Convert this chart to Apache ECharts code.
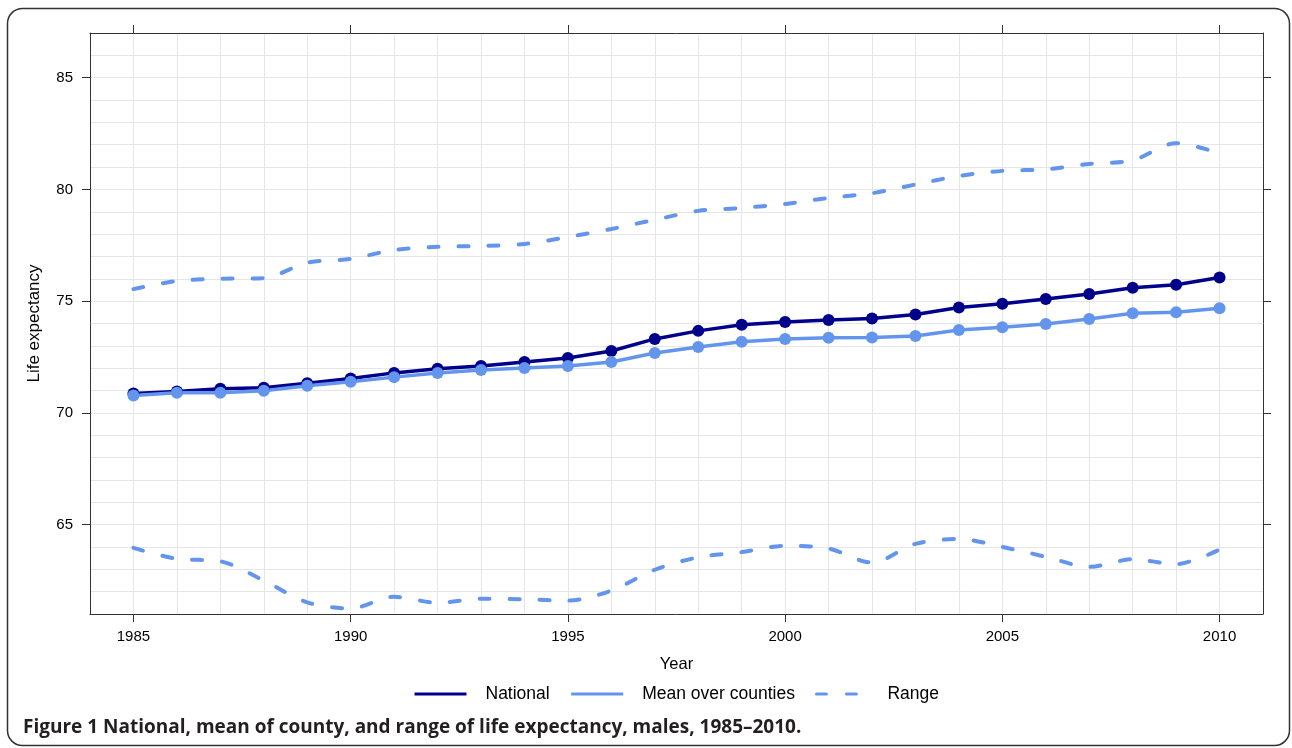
<!DOCTYPE html>
<html>
<head>
<meta charset="utf-8">
<script src="https://cdn.jsdelivr.net/npm/echarts@6/dist/echarts.min.js"></script>
<style>
  html, body { margin: 0; padding: 0; background: #fff; }
  #chart { width: 1292px; height: 748px; }
</style>
</head>
<body>
<div id="chart"></div>
<script>
const years = [1985,1986,1987,1988,1989,1990,1991,1992,1993,1994,1995,1996,1997,1998,1999,2000,2001,2002,2003,2004,2005,2006,2007,2008,2009,2010];
const national = [70.87,70.96,71.08,71.12,71.33,71.54,71.79,71.97,72.10,72.28,72.46,72.77,73.31,73.67,73.94,74.07,74.16,74.22,74.40,74.72,74.88,75.10,75.32,75.60,75.73,76.06];
const meanCounties = [70.78,70.90,70.90,70.99,71.21,71.39,71.60,71.78,71.92,72.01,72.10,72.28,72.68,72.95,73.18,73.31,73.36,73.37,73.44,73.71,73.83,73.98,74.20,74.46,74.50,74.68];
const rangeHigh = [75.54,75.90,76.00,76.03,76.72,76.89,77.29,77.43,77.47,77.56,77.87,78.23,78.64,79.04,79.17,79.35,79.62,79.83,80.22,80.60,80.83,80.90,81.14,81.30,82.07,81.62];
const rangeLow = [63.96,63.47,63.36,62.50,61.52,61.25,61.77,61.50,61.68,61.66,61.60,62.05,62.98,63.54,63.77,64.05,63.93,63.30,64.14,64.36,64.00,63.56,63.11,63.45,63.23,63.88];
const xTicks = [1985,1990,1995,2000,2005,2010];
const yTicks = [65,70,75,80,85];
const legendNames = ['National','Mean over counties','Range'];
const captionText = 'Figure 1 National, mean of county, and range of life expectancy, males, 1985\u20132010.';

const NAVY = '#00008B';
const CORN = '#6495ED';
const FONT = "'Liberation Sans', Arial, Helvetica, sans-serif";

const pairs = arr => years.map((y, i) => [y, arr[i]]);

const chart = echarts.init(document.getElementById('chart'), null, { renderer: 'canvas' });

const axisLineStyle = { color: '#333', width: 1 };
const gridLineStyle = { color: '#e6e6e6', width: 1 };
const plain = v => String(v);

chart.setOption({
  animation: false,
  backgroundColor: '#fff',
  title: {
    text: captionText,
    left: 23,
    top: 718,
    padding: 0,
    textStyle: { fontFamily: "'Open Sans', sans-serif", fontWeight: 'bold', fontSize: 19, color: '#231f20' }
  },
  graphic: [{
    type: 'rect',
    silent: true,
    z: 100,
    shape: { x: 7.5, y: 8.5, width: 1282, height: 737, r: 15 },
    style: { fill: 'none', stroke: '#333', lineWidth: 1.5 }
  }],
  legend: {
    data: legendNames,
    left: 413,
    top: 685,
    itemWidth: 52,
    itemHeight: 3,
    itemGap: 20,
    padding: 0,
    itemStyle: { opacity: 0 },
    lineStyle: { width: 3 },
    textStyle: { fontFamily: FONT, fontSize: 17.5, color: '#000', padding: [0, 0, 0, 14] }
  },
  grid: { left: 90, right: 29, top: 33, bottom: 134, containLabel: false },
  xAxis: [{
    type: 'value', position: 'bottom', min: 1984, max: 2011, interval: 1,
    name: 'Year', nameLocation: 'middle', nameGap: 42,
    nameTextStyle: { fontFamily: FONT, fontSize: 16.5, color: '#000' },
    axisLine: { show: true, lineStyle: axisLineStyle },
    axisTick: { show: true, length: 8, customValues: xTicks, lineStyle: axisLineStyle },
    axisLabel: { show: true, customValues: xTicks, formatter: plain, margin: 15, fontFamily: FONT, fontSize: 15, color: '#000' },
    splitLine: { show: false }
  }, {
    type: 'value', position: 'top', min: 1984, max: 2011, interval: 1,
    axisLine: { show: true, lineStyle: axisLineStyle },
    axisTick: { show: true, length: 8, customValues: xTicks, lineStyle: axisLineStyle },
    axisLabel: { show: false },
    splitLine: { show: false }
  }, {
    type: 'value', position: 'bottom', min: 1984, max: 2011, interval: 1,
    axisLine: { show: false }, axisTick: { show: false }, axisLabel: { show: false },
    splitLine: { show: true, lineStyle: gridLineStyle }
  }],
  yAxis: [{
    type: 'value', position: 'left', min: 61, max: 87, interval: 1,
    name: 'Life expectancy', nameLocation: 'middle', nameGap: 47,
    nameTextStyle: { fontFamily: FONT, fontSize: 17, color: '#000' },
    axisLine: { show: true, lineStyle: axisLineStyle },
    axisTick: { show: true, length: 8, customValues: yTicks, lineStyle: axisLineStyle },
    axisLabel: { show: true, customValues: yTicks, formatter: plain, margin: 17, fontFamily: FONT, fontSize: 15, color: '#000' },
    splitLine: { show: false }
  }, {
    type: 'value', position: 'right', min: 61, max: 87, interval: 1,
    axisLine: { show: true, lineStyle: axisLineStyle },
    axisTick: { show: true, length: 8, customValues: yTicks, lineStyle: axisLineStyle },
    axisLabel: { show: false },
    splitLine: { show: false }
  }, {
    type: 'value', position: 'left', min: 61, max: 87, interval: 1,
    axisLine: { show: false }, axisTick: { show: false }, axisLabel: { show: false },
    splitLine: { show: true, lineStyle: gridLineStyle }
  }],
  series: [{
    name: 'Range', type: 'line', data: pairs(rangeHigh), showSymbol: false, symbol: 'none', smooth: 0.3,
    lineStyle: { color: CORN, width: 4, type: [10, 20], cap: 'round' },
    itemStyle: { color: CORN }
  }, {
    name: 'Range', type: 'line', data: pairs(rangeLow), showSymbol: false, symbol: 'none', smooth: 0.3,
    lineStyle: { color: CORN, width: 4, type: [10, 20], cap: 'round' },
    itemStyle: { color: CORN }
  }, {
    name: 'National', type: 'line', data: pairs(national), symbol: 'circle', symbolSize: 12,
    lineStyle: { color: NAVY, width: 3.5 },
    itemStyle: { color: NAVY }
  }, {
    name: 'Mean over counties', type: 'line', data: pairs(meanCounties), symbol: 'circle', symbolSize: 12,
    lineStyle: { color: CORN, width: 3.5 },
    itemStyle: { color: CORN }
  }]
});
</script>
</body>
</html>
